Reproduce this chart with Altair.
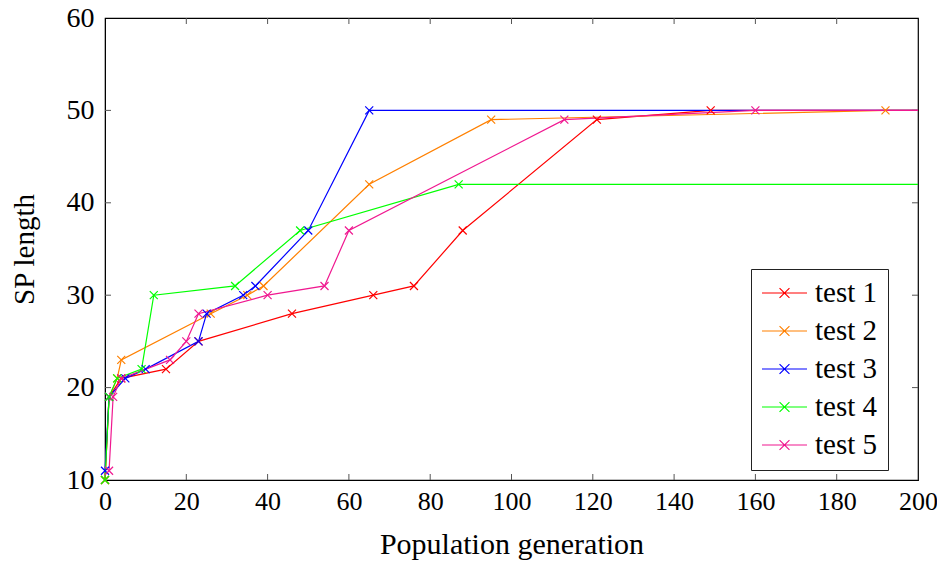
import altair as alt
import pandas as pd

series_names = ["test 1", "test 2", "test 3", "test 4", "test 5"]
series_colors = ["#ff0000", "#ff8000", "#0000ff", "#00ff00", "#f01890"]

test1_x = [0, 1, 4, 15, 23, 46, 66, 76, 88, 121, 149, 200]
test1_y = [10, 19, 21, 22, 25, 28, 30, 31, 37, 49, 50, 50]
test2_x = [0, 1, 3, 4, 26, 35, 39, 65, 95, 192, 200]
test2_y = [10, 19, 21, 23, 28, 30, 31, 42, 49, 50, 50]
test3_x = [0, 1, 5, 10, 23, 25, 34, 37, 50, 65, 200]
test3_y = [11, 19, 21, 22, 25, 28, 30, 31, 37, 50, 50]
test4_x = [0, 1, 3, 9, 12, 32, 48, 87, 200]
test4_y = [10, 19, 21, 22, 30, 31, 37, 42, 42]
test5_x = [1, 2, 4, 16, 20, 23, 40, 54, 60, 113, 160, 200]
test5_y = [11, 19, 21, 23, 25, 28, 30, 31, 37, 49, 50, 50]

x_ticks = [0, 20, 40, 60, 80, 100, 120, 140, 160, 180, 200]
y_ticks = [10, 20, 30, 40, 50, 60]

rows = []
for i, (name, xs, ys) in enumerate(zip(
        series_names,
        [test1_x, test2_x, test3_x, test4_x, test5_x],
        [test1_y, test2_y, test3_y, test4_y, test5_y])):
    for j, (xv, yv) in enumerate(zip(xs, ys)):
        rows.append({"gen": xv, "len": yv, "series": name, "order": i, "idx": j})
df = pd.DataFrame(rows)

FONT = "Liberation Serif"
W, H = 813, 462

xs = alt.Scale(domain=[0, 200], nice=False, zero=False)
ys = alt.Scale(domain=[10, 60], nice=False, zero=False)
cs = alt.Scale(domain=series_names, range=series_colors)

legend = alt.Legend(
    title=None, orient="none", legendX=646, legendY=251,
    symbolType="M-1,0L1,0M-0.22,-0.22L0.22,0.22M-0.22,0.22L0.22,-0.22",
    symbolSize=2025, symbolStrokeWidth=1.2, symbolFillColor="transparent",
    clipHeight=28, rowPadding=9, labelOffset=7,
    labelFont=FONT, labelFontSize=29, labelColor="black",
    strokeColor="#222222", fillColor="white", padding=10, cornerRadius=0,
    labelLimit=200,
)

base = alt.Chart(df)

lines = base.mark_line(strokeWidth=1.2).encode(
    x=alt.X("gen:Q", scale=xs, axis=alt.Axis(
        values=x_ticks, title="Population generation", ticks=False, grid=False,
        labelFlush=False, labelOverlap=False,
        labelFont=FONT, labelFontSize=26, labelColor="black", labelPadding=8,
        titleFont=FONT, titleFontSize=30, titleFontWeight="normal", titleColor="black",
        titlePadding=15, domainColor="black")),
    y=alt.Y("len:Q", scale=ys, axis=alt.Axis(
        values=y_ticks, title="SP length", ticks=False, grid=False,
        labelFlush=False, labelOverlap=False,
        labelFont=FONT, labelFontSize=28, labelColor="black", labelPadding=11,
        titleFont=FONT, titleFontSize=29, titleFontWeight="normal", titleColor="black",
        titlePadding=27, domainColor="black")),
    color=alt.Color("series:N", scale=cs, legend=legend),
    detail="series:N",
    order="idx:Q",
)

points = base.transform_filter("datum.gen < 200").mark_point(
    shape="M-1,-1L1,1M-1,1L1,-1", size=64, strokeWidth=1.2, filled=False, opacity=1
).encode(
    x=alt.X("gen:Q", scale=xs),
    y=alt.Y("len:Q", scale=ys),
    color=alt.Color("series:N", scale=cs, legend=None),
)

tick_x = pd.DataFrame({"t": x_ticks[1:-1]})
tick_y = pd.DataFrame({"t": y_ticks[1:-1]})
TL = 6
xb = alt.Chart(tick_x).mark_rule(color="#555555", strokeWidth=1).encode(
    x=alt.X("t:Q", scale=xs), y=alt.value(H), y2=alt.value(H - TL))
xt = alt.Chart(tick_x).mark_rule(color="#555555", strokeWidth=1).encode(
    x=alt.X("t:Q", scale=xs), y=alt.value(0), y2=alt.value(TL))
yl = alt.Chart(tick_y).mark_rule(color="#555555", strokeWidth=1).encode(
    y=alt.Y("t:Q", scale=ys), x=alt.value(0), x2=alt.value(TL))
yr = alt.Chart(tick_y).mark_rule(color="#555555", strokeWidth=1).encode(
    y=alt.Y("t:Q", scale=ys), x=alt.value(W), x2=alt.value(W - TL))

chart = alt.layer(xb, xt, yl, yr, lines, points).properties(
    width=W, height=H,
    autosize=alt.AutoSizeParams(type="none"),
    padding={"left": 97, "top": 10, "right": 19, "bottom": 81},
).configure(font=FONT).configure_view(stroke="black", strokeWidth=1.2)

chart.save("out.html", embed_options={"renderer": "svg", "actions": False})
